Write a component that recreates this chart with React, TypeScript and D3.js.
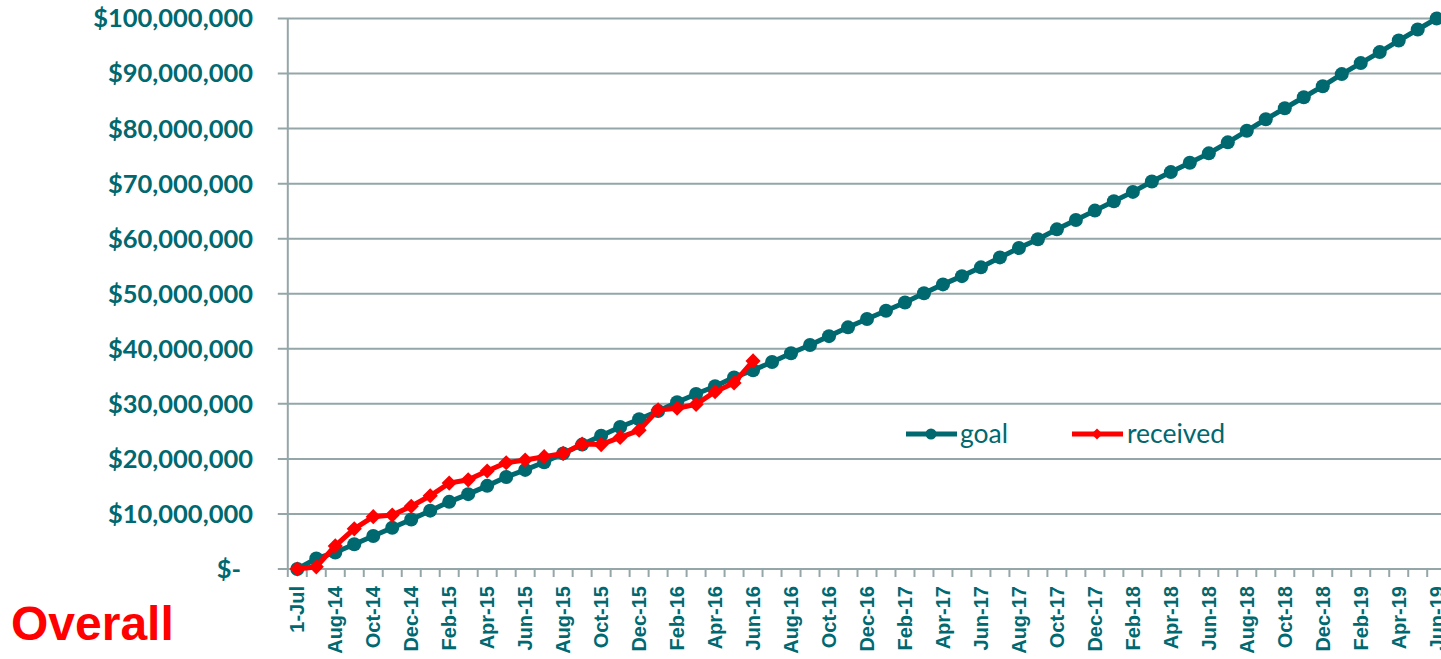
import * as d3 from "d3";
import React from "react";

// categories: start date, then month-end points Jul-14 .. Jun-19
const categories = [
  "1-Jul",
  "Jul-14", "Aug-14", "Sep-14", "Oct-14", "Nov-14", "Dec-14",
  "Jan-15", "Feb-15", "Mar-15", "Apr-15", "May-15", "Jun-15",
  "Jul-15", "Aug-15", "Sep-15", "Oct-15", "Nov-15", "Dec-15",
  "Jan-16", "Feb-16", "Mar-16", "Apr-16", "May-16", "Jun-16",
  "Jul-16", "Aug-16", "Sep-16", "Oct-16", "Nov-16", "Dec-16",
  "Jan-17", "Feb-17", "Mar-17", "Apr-17", "May-17", "Jun-17",
  "Jul-17", "Aug-17", "Sep-17", "Oct-17", "Nov-17", "Dec-17",
  "Jan-18", "Feb-18", "Mar-18", "Apr-18", "May-18", "Jun-18",
  "Jul-18", "Aug-18", "Sep-18", "Oct-18", "Nov-18", "Dec-18",
  "Jan-19", "Feb-19", "Mar-19", "Apr-19", "May-19", "Jun-19",
];

// values in $ millions
const goal = [
  0, 1.9, 3.0, 4.5, 6.0, 7.5, 9.0, 10.6, 12.2, 13.6, 15.1, 16.7, 18.0,
  19.4, 21.0, 22.6, 24.2, 25.8, 27.2, 28.7, 30.3, 31.8, 33.2, 34.8, 36.1,
  37.6, 39.2, 40.7, 42.3, 43.9, 45.4, 46.9, 48.4, 50.1, 51.7, 53.2, 54.8,
  56.6, 58.3, 59.9, 61.7, 63.4, 65.1, 66.8, 68.5, 70.4, 72.1, 73.8, 75.5,
  77.5, 79.6, 81.7, 83.7, 85.7, 87.7, 89.9, 91.9, 93.9, 96.0, 98.0, 100,
];

const received = [
  0, 0.4, 4.2, 7.3, 9.5, 9.8, 11.4, 13.3, 15.6, 16.2, 17.8, 19.3, 19.8,
  20.4, 21.0, 22.7, 22.6, 23.9, 25.2, 28.9, 29.2, 29.9, 32.2, 33.8, 37.8,
];

const yTicks = [0, 10, 20, 30, 40, 50, 60, 70, 80, 90, 100];

const TEAL = "#00686f";
const RED = "#ff0000";
const GRID = "#95a6a9";

export default function App() {
  const width = 1441,
    height = 659;

  const x = d3
    .scaleBand<string>()
    .domain(categories)
    .range([287.8, 1446.2])
    .paddingInner(0)
    .paddingOuter(0);
  const bw = x.bandwidth();
  const cx = (i: number) => (x(categories[i]) as number) + bw / 2;

  const y = d3.scaleLinear().domain([0, 100]).range([569, 18.5]);

  const line = d3
    .line<number>()
    .x((d, i) => cx(i))
    .y((d) => y(d));

  const circle = d3.symbol().type(d3.symbolCircle).size(Math.PI * 7 * 7)();
  const circleSmall = d3.symbol().type(d3.symbolCircle).size(Math.PI * 5.5 * 5.5)();
  const diamond = d3.symbol().type(d3.symbolSquare).size(115)();
  const diamondSmall = d3.symbol().type(d3.symbolSquare).size(60)();

  const fmt = (v: number) =>
    v === 0 ? "$-" : "$" + d3.format(",")(v * 1000000);

  const left = x.range()[0];

  return (
    <div>
      <style>{"body{margin:0;overflow:hidden}"}</style>
      <svg width={width} height={height} style={{ display: "block" }}>
        <rect width={width} height={height} fill="#fff" />

        {/* gridlines + y ticks */}
        {yTicks.map((t) => (
          <g key={t}>
            <line
              x1={left - 10}
              x2={width}
              y1={y(t)}
              y2={y(t)}
              stroke={GRID}
              strokeWidth={2}
            />
            <text
              x={t === 0 ? 241 : 253}
              y={y(t)}
              dy="0.35em"
              textAnchor="end"
              fill={TEAL}
              fontFamily="Lato, 'Open Sans', sans-serif"
              fontWeight="bold"
              fontSize={25.5}
            >
              {fmt(t)}
            </text>
          </g>
        ))}

        {/* y axis line */}
        <line
          x1={left}
          x2={left}
          y1={y(100)}
          y2={y(0)}
          stroke={GRID}
          strokeWidth={2}
        />

        {/* x ticks */}
        {categories.map((c, i) => (
          <line
            key={"t" + i}
            x1={(x(c) as number) + bw}
            x2={(x(c) as number) + bw}
            y1={y(0)}
            y2={y(0) + 8}
            stroke={GRID}
            strokeWidth={2}
          />
        ))}
        <line x1={left} x2={left} y1={y(0)} y2={y(0) + 8} stroke={GRID} strokeWidth={2} />

        {/* x labels, every other category */}
        {categories.map((c, i) =>
          i % 2 === 0 ? (
            <text
              key={"l" + i}
              transform={`translate(${cx(i)},${586}) rotate(-90)`}
              dy="0.36em"
              textAnchor="end"
              fill={TEAL}
              fontFamily="'Liberation Sans', Arial, sans-serif"
              fontWeight="bold"
              fontSize={20}
            >
              {c}
            </text>
          ) : null
        )}

        {/* goal series */}
        <path d={line(goal) || ""} fill="none" stroke={TEAL} strokeWidth={5} />
        {goal.map((v, i) => (
          <path
            key={"g" + i}
            d={circle || ""}
            transform={`translate(${cx(i)},${y(v)})`}
            fill={TEAL}
          />
        ))}

        {/* received series */}
        <path d={line(received) || ""} fill="none" stroke={RED} strokeWidth={5} />
        {received.map((v, i) => (
          <path
            key={"r" + i}
            d={diamond || ""}
            transform={`translate(${cx(i)},${y(v)}) rotate(45)`}
            fill={RED}
          />
        ))}

        {/* legend */}
        <g fontFamily="Lato, 'Open Sans', sans-serif" fontSize={26.5} fill={TEAL}>
          <line x1={906} x2={957} y1={434} y2={434} stroke={TEAL} strokeWidth={5} />
          <path d={circleSmall || ""} transform="translate(931,434)" fill={TEAL} />
          <text x={960} y={443}>goal</text>
          <line x1={1072} x2={1123} y1={434} y2={434} stroke={RED} strokeWidth={5} />
          <path d={diamondSmall || ""} transform="translate(1097,434) rotate(45)" fill={RED} />
          <text x={1127} y={443}>received</text>
        </g>

        <text
          x={11}
          y={640}
          fill={RED}
          fontFamily="'Liberation Sans', Arial, sans-serif"
          fontWeight="bold"
          fontSize={48}
        >
          Overall
        </text>
      </svg>
    </div>
  );
}
